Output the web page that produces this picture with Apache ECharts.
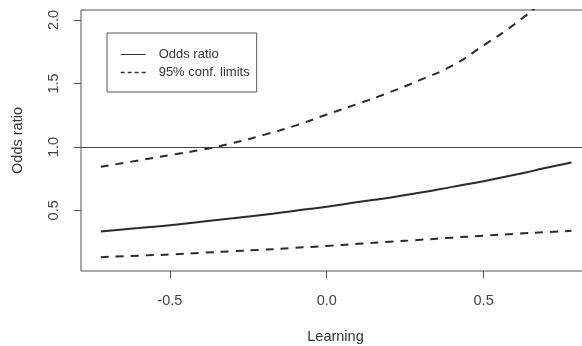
<!DOCTYPE html>
<html>
<head>
<meta charset="utf-8">
<script src="https://cdn.jsdelivr.net/npm/echarts@6/dist/echarts.min.js"></script>
<style>html,body{margin:0;padding:0;background:#fff;}#c{width:582px;height:346px;}</style>
</head>
<body>
<div id="c"></div>
<script>
var learning = [-0.72, -0.6, -0.5, -0.4, -0.3, -0.2, -0.1, 0, 0.1, 0.2, 0.3, 0.4, 0.5, 0.6, 0.7, 0.78];
var oddsRatio = [0.333, 0.36, 0.383, 0.41, 0.437, 0.465, 0.497, 0.528, 0.565, 0.60, 0.64, 0.685, 0.73, 0.78, 0.835, 0.877];
var upperLimit = [0.843, 0.893, 0.935, 0.977, 1.03, 1.095, 1.168, 1.255, 1.34, 1.43, 1.53, 1.64, 1.80, 1.97, 2.17, 2.34];
var lowerLimit = [0.131, 0.143, 0.152, 0.165, 0.178, 0.19, 0.205, 0.219, 0.236, 0.252, 0.268, 0.285, 0.30, 0.315, 0.328, 0.339];
var xTicks = [-0.5, 0, 0.5];
var yTicks = [0.5, 1.0, 1.5, 2.0];
var refLine = 1.0;

function pairs(xs, ys) { return xs.map(function (x, i) { return [x, ys[i]]; }); }

var FONT = '"Liberation Sans", Arial, sans-serif';
var chart = echarts.init(document.getElementById('c'), null, { renderer: 'canvas' });
chart.setOption({
  animation: false,
  backgroundColor: '#fff',
  grid: { left: 81, top: 10, width: 509, height: 261, show: true, borderColor: '#555', borderWidth: 1,
    backgroundColor: 'transparent', containLabel: false, outerBoundsMode: 'none' },
  legend: {
    orient: 'vertical', left: 107, top: 33,
    padding: [15, 7, 13, 13], itemGap: 5, itemWidth: 25, itemHeight: 14,
    borderColor: '#555', borderWidth: 1,
    textStyle: { fontFamily: FONT, fontSize: 13, color: '#333', padding: [0, 0, 0, 8] },
    itemStyle: { color: 'rgba(0,0,0,0)', borderWidth: 0, borderColor: 'rgba(0,0,0,0)' },
    lineStyle: { width: 1, color: '#333' },
    data: [
      { name: 'Odds ratio', lineStyle: { type: 'solid', width: 1 } },
      { name: '95% conf. limits', lineStyle: { type: [4, 3], width: 1.3 } }
    ]
  },
  xAxis: {
    type: 'value', min: -0.783, max: 0.839,
    name: 'Learning', nameLocation: 'middle', nameGap: 58,
    nameTextStyle: { fontFamily: FONT, fontSize: 14.5, color: '#333' },
    axisLine: { show: false, onZero: false },
    splitLine: { show: false },
    axisTick: { show: true, inside: false, length: 7, customValues: xTicks, lineStyle: { color: '#555' } },
    axisLabel: { customValues: xTicks, margin: 22, fontFamily: FONT, fontSize: 14.5, color: '#444',
      formatter: function (v) { return v.toFixed(1); } }
  },
  yAxis: {
    type: 'value', min: 0.022, max: 2.079,
    name: 'Odds ratio', nameLocation: 'middle', nameGap: 56, nameRotate: 90,
    nameTextStyle: { fontFamily: FONT, fontSize: 14.5, color: '#333' },
    axisLine: { show: false, onZero: false },
    splitLine: { show: false },
    axisTick: { show: true, inside: false, length: 7, customValues: yTicks, lineStyle: { color: '#555' } },
    axisLabel: { customValues: yTicks, margin: 20, rotate: 90, fontFamily: FONT, fontSize: 14.5, color: '#444',
      formatter: function (v) { return v.toFixed(1); } }
  },
  series: [
    {
      name: 'Odds ratio', type: 'line', data: pairs(learning, oddsRatio),
      symbol: 'none', showSymbol: false, smooth: true, silent: true,
      lineStyle: { color: '#2b2b2b', width: 2 },
      itemStyle: { color: '#2b2b2b' },
      markLine: { silent: true, symbol: 'none', label: { show: false },
        lineStyle: { color: '#444', width: 1, type: 'solid' },
        data: [{ yAxis: refLine }] }
    },
    {
      name: '95% conf. limits', type: 'line', data: pairs(learning, upperLimit),
      symbol: 'none', showSymbol: false, smooth: true, silent: true,
      lineStyle: { color: '#2b2b2b', width: 2, type: [8, 7] },
      itemStyle: { color: '#2b2b2b' }
    },
    {
      name: '95% conf. limits', type: 'line', data: pairs(learning, lowerLimit),
      symbol: 'none', showSymbol: false, smooth: true, silent: true,
      lineStyle: { color: '#2b2b2b', width: 2, type: [8, 7] },
      itemStyle: { color: '#2b2b2b' }
    }
  ]
});
</script>
</body>
</html>
